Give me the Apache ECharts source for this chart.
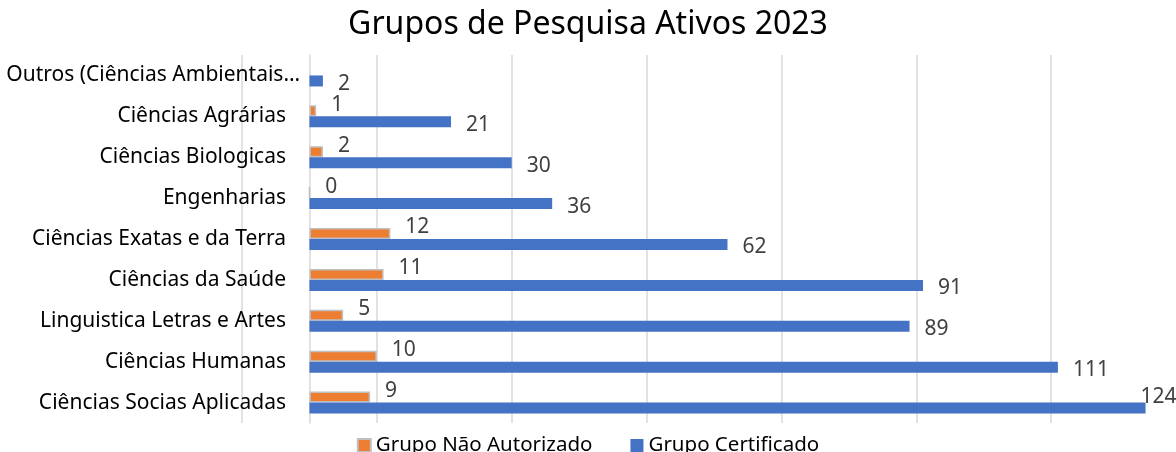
<!DOCTYPE html>
<html>
<head>
<meta charset="utf-8">
<script src="https://cdn.jsdelivr.net/npm/echarts@6/dist/echarts.min.js"></script>
<style>
  html, body { margin: 0; padding: 0; background: #fff; }
  #chart { width: 1176px; height: 452px; }
</style>
</head>
<body>
<div id="chart"></div>
<script>
var categories = ['Ciências Socias Aplicadas', 'Ciências Humanas', 'Linguistica Letras e Artes', 'Ciências da Saúde',
    'Ciências Exatas e da Terra', 'Engenharias', 'Ciências Biologicas', 'Ciências Agrárias', 'Outros (Ciências Ambientais…'];
var naoAutorizado = [9, 10, 5, 11, 12, 0, 2, 1, null];
var certificado = [124, 111, 89, 91, 62, 36, 30, 21, 2];
var seriesNames = ['Grupo Não Autorizado', 'Grupo Certificado'];

var font = 'Noto Sans';
var myChart = echarts.init(document.getElementById('chart'));

// the truncated label runs a bit past the others, as in the original
var catData = categories.map(function (c) {
    if (c.indexOf('…') >= 0) {
        return { value: c, textStyle: { padding: [0, -14, 0, 0] } };
    }
    return c;
});

// the longest bar's label sits over the bar end, like in the original
var certData = certificado.map(function (v, i) {
    if (v === Math.max.apply(null, certificado)) {
        return { value: v, label: { offset: [-10, -11] } };
    }
    return v;
});

option = {
    animation: false,
    title: {
        text: 'Grupos de Pesquisa Ativos 2023',
        left: 'center',
        top: 4,
        textStyle: { fontFamily: font, fontSize: 32, fontWeight: 'normal', color: '#000' }
    },
    legend: {
        data: seriesNames,
        left: 'center',
        top: 430,
        itemWidth: 13,
        itemHeight: 13,
        itemGap: 38,
        icon: 'rect',
        textStyle: { fontFamily: font, fontSize: 20.5, color: '#000' }
    },
    grid: {
        left: 242,
        right: -10,
        top: 55,
        bottom: 29,
        outerBoundsMode: 'none',
        containLabel: false
    },
    xAxis: {
        type: 'value',
        min: -10,
        max: 130,
        interval: 20,
        axisLabel: { show: false },
        axisTick: { show: false },
        axisLine: { show: false },
        splitLine: { lineStyle: { color: '#d9d9d9', width: 1.5 } }
    },
    yAxis: {
        type: 'category',
        data: catData,
        axisTick: { show: false },
        axisLine: { onZero: true, lineStyle: { color: '#d9d9d9', width: 1.5 } },
        // labels are placed from the grid edge, the axis line sits at zero
        axisLabel: { margin: -44, fontFamily: font, fontSize: 21, color: '#000' }
    },
    series: [
        {
            name: seriesNames[0],
            type: 'bar',
            data: naoAutorizado,
            barWidth: 11,
            barGap: '0%',
            itemStyle: { color: '#ED7D31', borderColor: '#bfbfbf', borderWidth: 1.5 },
            label: {
                show: true, position: 'right', distance: 5, offset: [10, -6],
                fontFamily: font, fontSize: 21, color: '#404040'
            }
        },
        {
            name: seriesNames[1],
            type: 'bar',
            data: certData,
            barWidth: 11,
            barGap: '0%',
            itemStyle: { color: '#4472C4' },
            label: {
                show: true, position: 'right', distance: 5, offset: [10, 3],
                fontFamily: font, fontSize: 21, color: '#404040'
            }
        }
    ]
};

myChart.setOption(option);
window.onresize = function () {
    myChart.resize();
}
</script>
</body>
</html>
